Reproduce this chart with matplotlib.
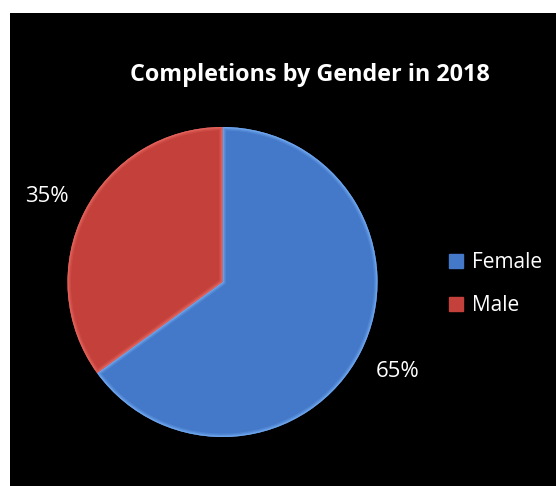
import matplotlib
matplotlib.use("Agg")
import matplotlib.pyplot as plt
from matplotlib.patches import Rectangle, Wedge
from matplotlib.lines import Line2D

categories = ["Female", "Male"]
values = [65, 35]
colors = ["#4479c9", "#c4403b"]
rim_colors = ["#72aaf0", "#e5675f"]
title = "Completions by Gender in 2018"

plt.rcParams['font.family'] = ['Open Sans', 'DejaVu Sans']

W, H = 556, 486
fig = plt.figure(figsize=(W / 100, H / 100), dpi=100, facecolor="white")
fig.patches.append(Rectangle((10 / W, 0), (W - 10) / W, (H - 13) / H,
                             transform=fig.transFigure, facecolor="black",
                             edgecolor="none", zorder=-10))

cx, cy, r = 222.5, 282, 155
ax = fig.add_axes([(cx - r) / W, (H - cy - r) / H, 2 * r / W, 2 * r / H])
ax.set_zorder(5)
ax.set_facecolor("none")
wedges, texts, autotexts = ax.pie(
    values, colors=colors, startangle=90, counterclock=False,
    autopct="%1.0f%%", pctdistance=1.27,
    wedgeprops=dict(linewidth=0),
    textprops=dict(color="white", fontsize=16))

# soft bevel highlight along each wedge's outline
for w, rc in zip(wedges, rim_colors):
    for lw, a in [(5, 0.25), (3, 0.45), (1.5, 0.8)]:
        ax.add_patch(Wedge(w.center, w.r, w.theta1, w.theta2,
                           facecolor="none", edgecolor=rc, linewidth=lw,
                           alpha=a, clip_path=w, joinstyle="round"))

ax.set_xlim(-1, 1)
ax.set_ylim(-1, 1)
ax.set_aspect("equal")
ax.axis("off")

# nudge the 35% label slightly down, as in the reference
autotexts[1].set_transform(autotexts[1].get_transform() +
                           matplotlib.transforms.ScaledTranslation(0, -0.04, fig.dpi_scale_trans))

fig.text(310 / W, 1 - 75 / H, title, color="white", fontsize=16.8,
         fontweight="bold", ha="center", va="center")

handles = [Line2D([], [], marker="s", linestyle="none", markersize=10,
                  markerfacecolor=c, markeredgecolor=c) for c in colors]
leg = fig.legend(handles, categories, loc="center left",
                 bbox_to_anchor=(429 / W, 1 - 284 / H), frameon=False,
                 labelcolor="white", fontsize=15, handlelength=0.8,
                 handletextpad=0.35, labelspacing=1.05)

fig.savefig("out.png", dpi=100, facecolor="white")
